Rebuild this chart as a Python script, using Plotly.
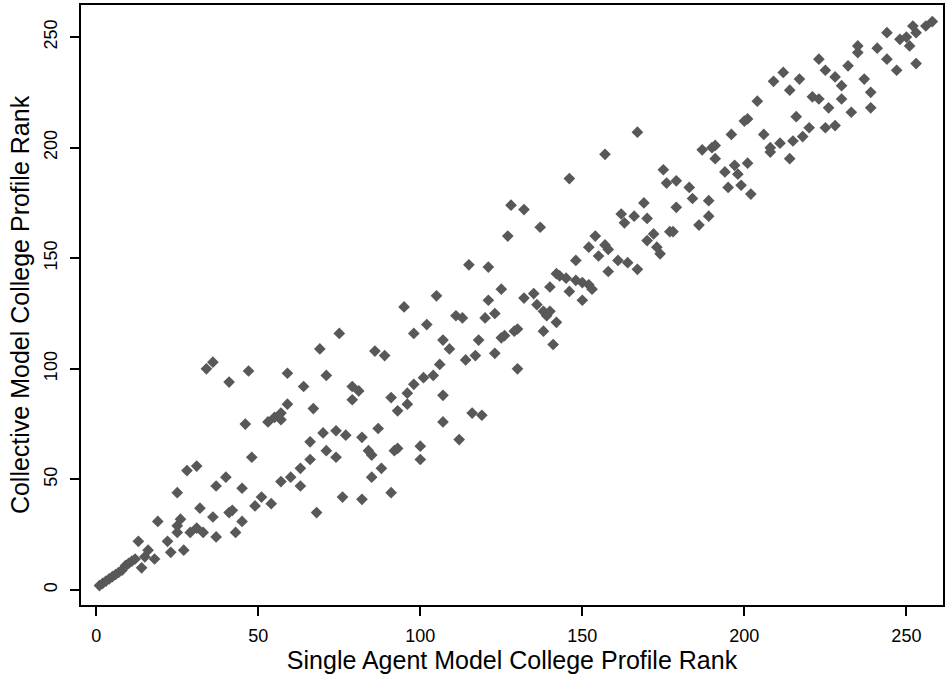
import plotly.graph_objects as go

single_rank = [1,2,3,4,5,6,7,8,9,10,11,12,14,13,15,16,18,19,22,23,25,25,25,26,27,28,29,31,31,32,33,34,36,36,37,37,40,41,41,42,43,45,45,46,47,48,49,51,53,54,55,57,57,57,59,59,60,63,63,64,66,66,67,68,69,70,71,71,74,74,75,77,76,79,81,79,82,82,84,85,86,87,88,85,89,91,91,92,93,93,96,96,98,98,100,100,101,102,104,95,105,106,107,107,107,109,112,111,113,114,115,116,117,118,119,120,121,121,123,123,125,125,126,127,128,129,130,130,132,132,135,136,137,138,138,139,140,140,141,142,142,143,145,146,146,148,148,150,150,152,152,153,154,155,157,157,158,158,161,162,163,164,166,167,167,169,170,170,172,173,174,175,176,177,178,179,179,183,184,186,187,189,189,190,191,191,194,195,196,197,198,199,200,201,201,202,204,206,208,208,209,211,212,214,214,215,216,218,217,220,221,223,223,225,225,226,228,228,230,230,232,233,235,235,237,239,239,241,244,244,247,248,250,251,252,253,253,256,258]
collective_rank = [2,3,4,5,6,7,8,9,11,12,13,14,10,22,15,18,14,31,22,17,26,29,44,32,18,54,26,28,56,37,26,100,103,33,24,47,51,94,35,36,26,31,46,75,99,60,38,42,76,39,78,77,49,80,98,84,51,55,47,92,59,67,82,35,109,71,63,97,72,60,116,70,42,92,90,86,69,41,63,61,108,73,55,51,106,87,44,63,81,64,89,84,93,116,65,59,96,120,97,128,133,102,88,76,113,109,68,124,123,104,147,80,106,113,79,123,146,131,107,125,114,136,115,160,174,117,100,118,172,132,134,129,164,126,117,124,137,126,111,143,121,142,141,186,135,149,140,139,131,138,155,136,160,151,156,197,154,144,149,170,166,148,169,145,207,175,168,158,161,155,152,190,184,162,162,185,173,182,177,165,199,176,169,200,195,201,189,182,206,192,188,183,212,193,213,179,221,206,198,200,230,202,234,195,226,203,214,205,231,209,223,222,240,209,235,218,210,232,228,222,237,216,246,243,231,225,218,245,240,252,235,249,250,246,255,252,238,255,257]

x_ticks = [0, 50, 100, 150, 200, 250]
y_ticks = [0, 50, 100, 150, 200, 250]

FONT = "Liberation Sans, Arial, sans-serif"

fig = go.Figure()
fig.add_trace(go.Scatter(
    x=single_rank, y=collective_rank, mode="markers",
    marker=dict(symbol="diamond", size=9, color="#585858", line=dict(width=0)),
    showlegend=False, hoverinfo="x+y",
))

axis_common = dict(
    showgrid=False, zeroline=False, showline=True, linecolor="black", linewidth=2,
    mirror=True, ticks="outside", ticklen=9, tickwidth=1.5, tickcolor="black",
    tickfont=dict(family=FONT, size=18, color="black"),
)

fig.update_xaxes(
    range=[-4.7, 261.3], tickvals=x_ticks, ticktext=[str(v) for v in x_ticks],
    title=dict(text="Single Agent Model College Profile Rank",
               font=dict(family=FONT, size=25, color="black"), standoff=0),
    ticklabelstandoff=4, **axis_common,
)
fig.update_yaxes(
    range=[-6.8, 264.5], tickvals=y_ticks, ticktext=[str(v) for v in y_ticks],
    tickangle=-90,
    title=dict(text="Collective Model College Profile Rank",
               font=dict(family=FONT, size=25, color="black"), standoff=4),
    ticklabelstandoff=6, **axis_common,
)

fig.update_layout(
    width=945, height=674,
    margin=dict(l=81, r=2, t=5, b=69, autoexpand=False),
    paper_bgcolor="white", plot_bgcolor="white",
    font=dict(family=FONT, color="black"),
)

fig.write_html("out.html")
